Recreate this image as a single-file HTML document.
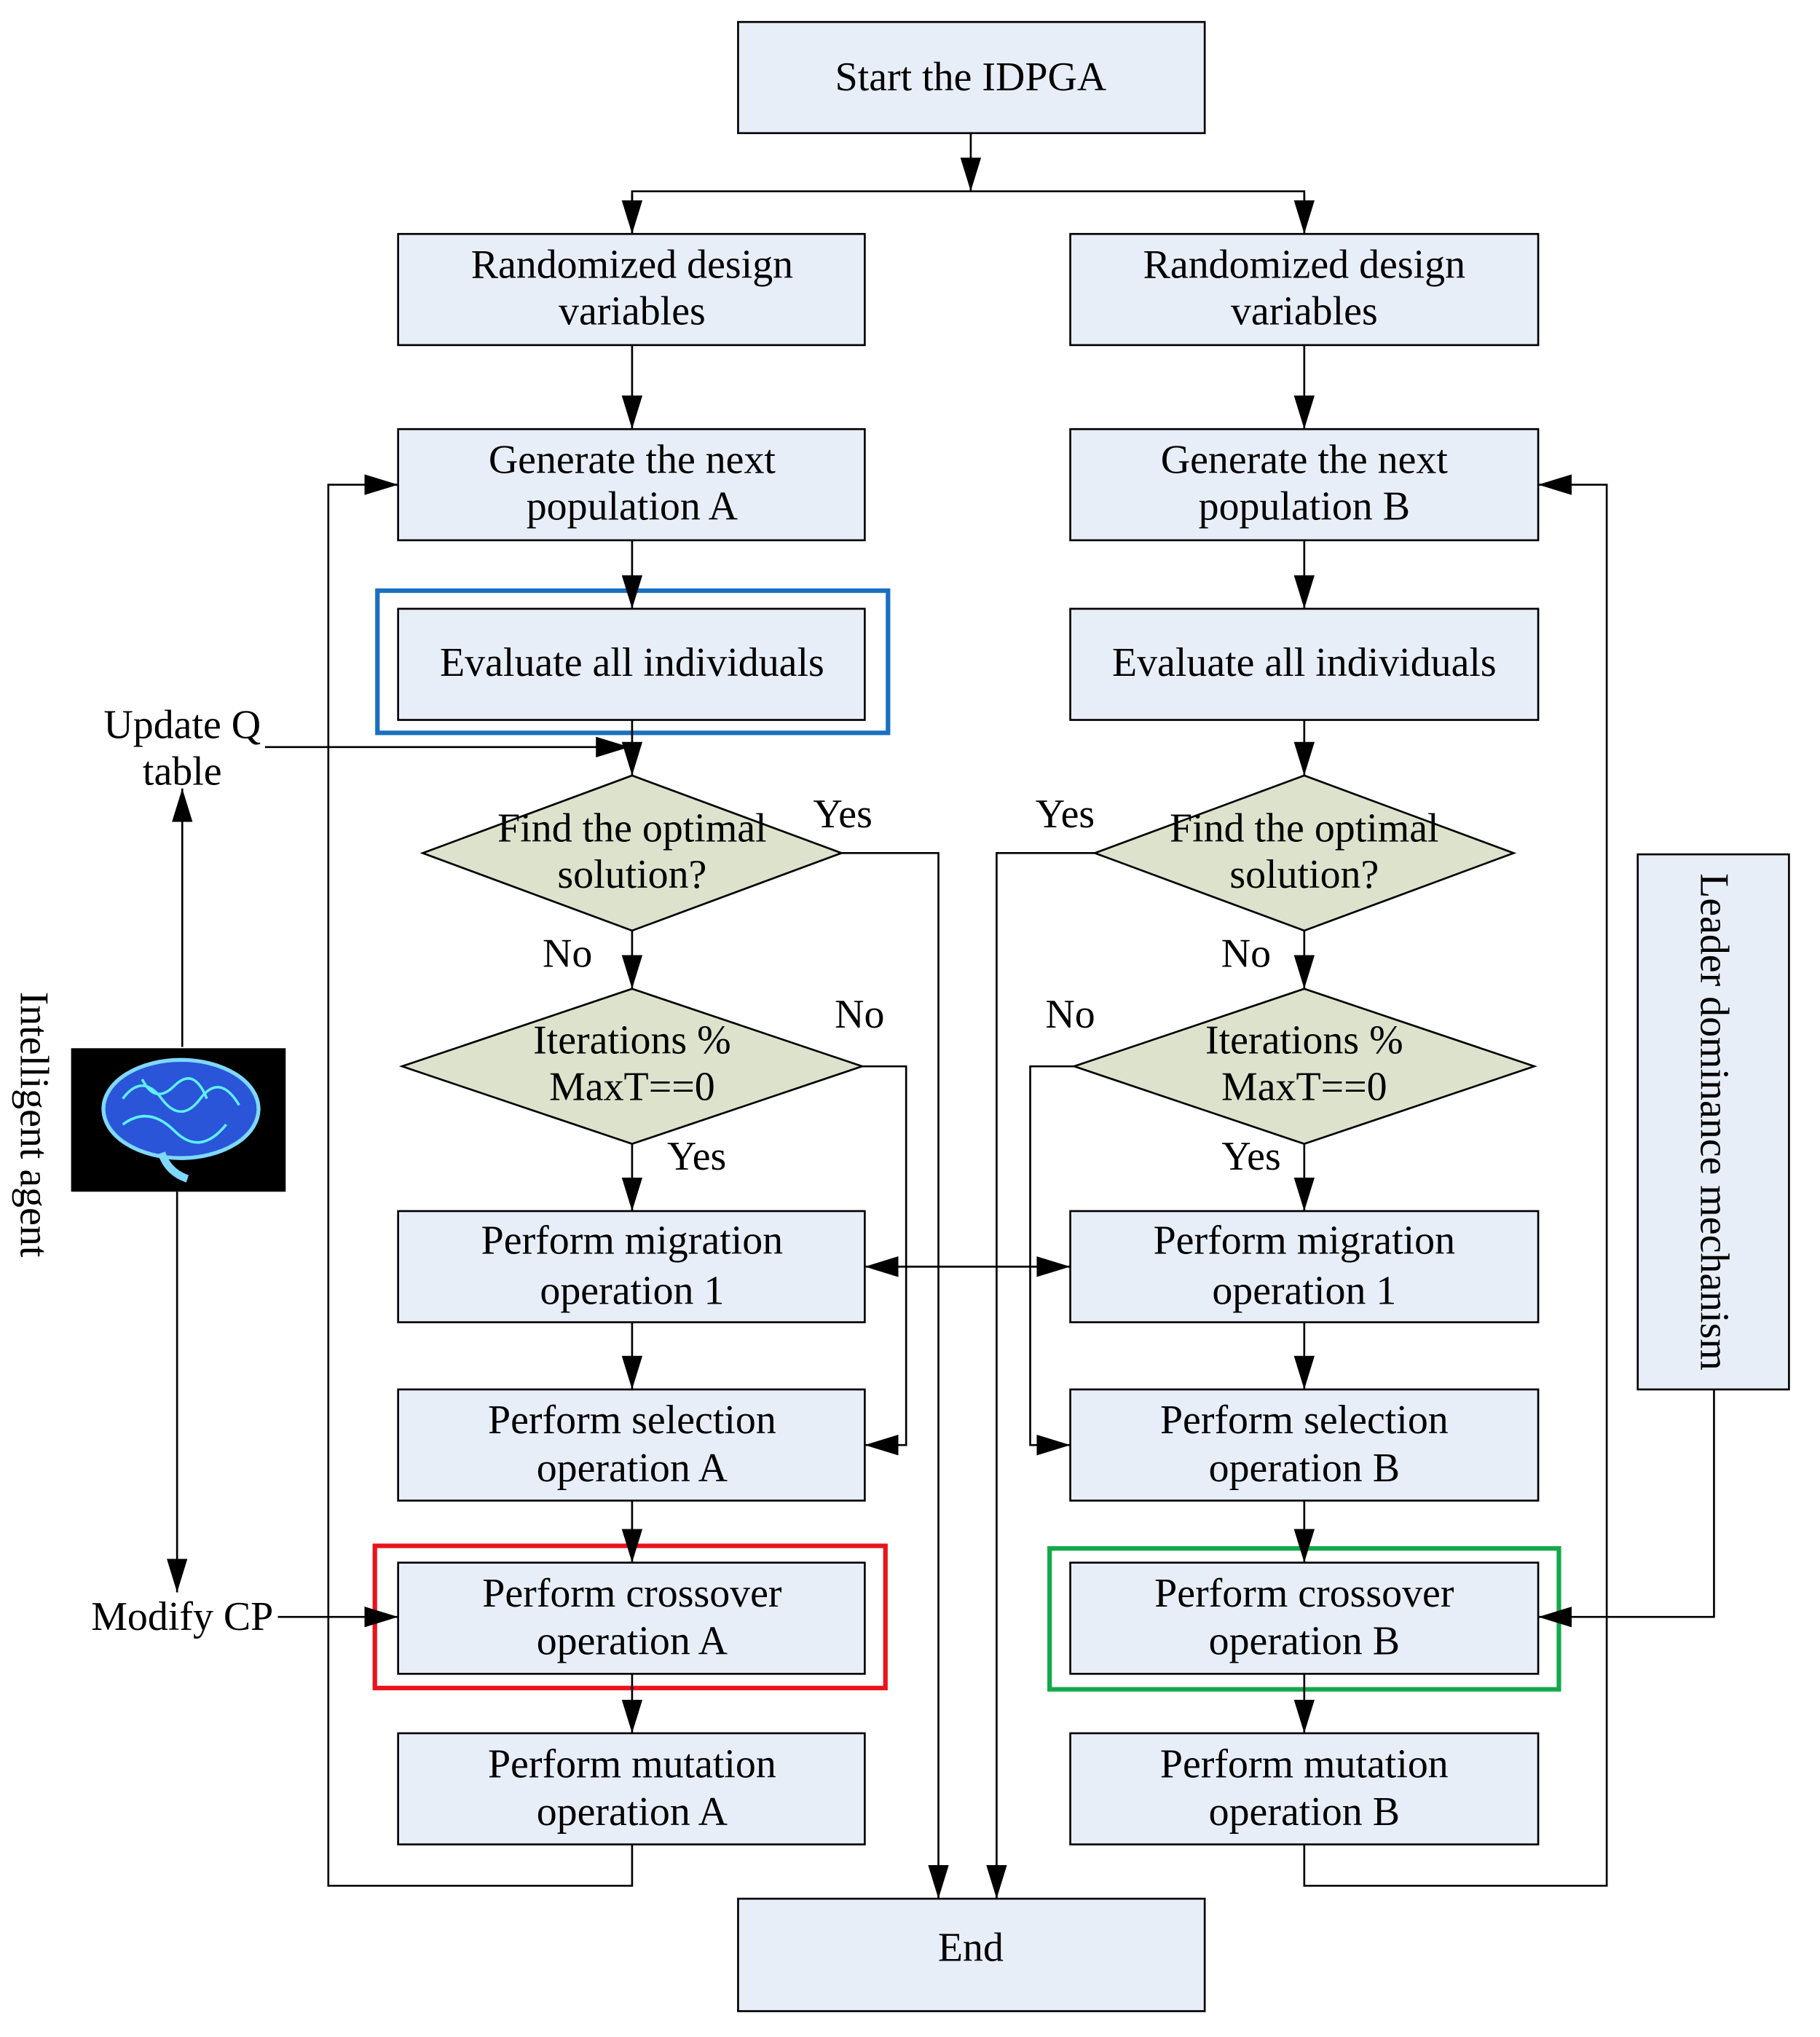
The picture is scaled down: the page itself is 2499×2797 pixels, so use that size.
<!DOCTYPE html>
<html><head><meta charset="utf-8"><style>
html,body{margin:0;padding:0;background:#fff;}
svg{display:block;}
text{font-family:"Liberation Serif",serif;font-size:31.5px;fill:#000;}
</style></head><body>
<svg width="2499" height="2797" viewBox="0 0 1408 1576" preserveAspectRatio="none" xmlns="http://www.w3.org/2000/svg">
<defs>
<marker id="b" markerWidth="26" markerHeight="16" refX="26" refY="8" orient="auto" markerUnits="userSpaceOnUse">
<path d="M0,0 L26,8 L0,16 z" fill="#000"/></marker>
<marker id="bs" markerWidth="26" markerHeight="16" refX="0" refY="8" orient="auto" markerUnits="userSpaceOnUse">
<path d="M26,0 L0,8 L26,16 z" fill="#000"/></marker>
</defs>
<g stroke="#000" stroke-width="1.5" fill="#e8eef8">
<rect x="571" y="17" width="361" height="86"/>
<rect x="308" y="181" width="361" height="86"/>
<rect x="828" y="181" width="362" height="86"/>
<rect x="308" y="332" width="361" height="86"/>
<rect x="828" y="332" width="362" height="86"/>
<rect x="308" y="471" width="361" height="86"/>
<rect x="828" y="471" width="362" height="86"/>
<rect x="308" y="937" width="361" height="86"/>
<rect x="828" y="937" width="362" height="86"/>
<rect x="308" y="1075" width="361" height="86"/>
<rect x="828" y="1075" width="362" height="86"/>
<rect x="308" y="1209" width="361" height="86"/>
<rect x="828" y="1209" width="362" height="86"/>
<rect x="308" y="1341" width="361" height="86"/>
<rect x="828" y="1341" width="362" height="86"/>
<rect x="571" y="1469" width="361" height="87"/>
<rect x="1267" y="661" width="117" height="414"/>
<polygon points="327,660 489,600 651,660 489,720" fill="#dde2cc"/>
<polygon points="847,660 1009,600 1171,660 1009,720" fill="#dde2cc"/>
<polygon points="311,825 489,765 667,825 489,885" fill="#dde2cc"/>
<polygon points="831,825 1009,765 1187,825 1009,885" fill="#dde2cc"/>
</g>
<rect x="292" y="457" width="395" height="110" fill="none" stroke="#1a6fc0" stroke-width="3.5"/>
<rect x="290" y="1196" width="395" height="110" fill="none" stroke="#e8141c" stroke-width="3.5"/>
<rect x="812" y="1198" width="394" height="109" fill="none" stroke="#13a84a" stroke-width="3.5"/>
<g stroke="#000" stroke-width="1.5" fill="none">
<line x1="751" y1="103" x2="751" y2="148" marker-end="url(#b)"/>
<polyline points="489,181 489,148 1009,148 1009,181"/>
<line x1="489" y1="150" x2="489" y2="181" marker-end="url(#b)"/>
<line x1="1009" y1="150" x2="1009" y2="181" marker-end="url(#b)"/>
<line x1="489" y1="267" x2="489" y2="332" marker-end="url(#b)"/>
<line x1="1009" y1="267" x2="1009" y2="332" marker-end="url(#b)"/>
<line x1="489" y1="418" x2="489" y2="471" marker-end="url(#b)"/>
<line x1="1009" y1="418" x2="1009" y2="471" marker-end="url(#b)"/>
<line x1="489" y1="557" x2="489" y2="600" marker-end="url(#b)"/>
<line x1="1009" y1="557" x2="1009" y2="600" marker-end="url(#b)"/>
<line x1="489" y1="720" x2="489" y2="765" marker-end="url(#b)"/>
<line x1="1009" y1="720" x2="1009" y2="765" marker-end="url(#b)"/>
<line x1="489" y1="885" x2="489" y2="937" marker-end="url(#b)"/>
<line x1="1009" y1="885" x2="1009" y2="937" marker-end="url(#b)"/>
<line x1="489" y1="1023" x2="489" y2="1075" marker-end="url(#b)"/>
<line x1="1009" y1="1023" x2="1009" y2="1075" marker-end="url(#b)"/>
<line x1="489" y1="1161" x2="489" y2="1209" marker-end="url(#b)"/>
<line x1="1009" y1="1161" x2="1009" y2="1209" marker-end="url(#b)"/>
<line x1="489" y1="1295" x2="489" y2="1341" marker-end="url(#b)"/>
<line x1="1009" y1="1295" x2="1009" y2="1341" marker-end="url(#b)"/>
<polyline points="489,1427 489,1459 254,1459 254,375 308,375" marker-end="url(#b)"/>
<polyline points="1009,1427 1009,1459 1243,1459 1243,375 1190,375" marker-end="url(#b)"/>
<polyline points="651,660 726,660 726,1469" marker-end="url(#b)"/>
<polyline points="847,660 771,660 771,1469" marker-end="url(#b)"/>
<polyline points="667,825 701,825 701,1118 669,1118" marker-end="url(#b)"/>
<polyline points="831,825 797,825 797,1118 828,1118" marker-end="url(#b)"/>
<line x1="669" y1="980" x2="828" y2="980" marker-start="url(#bs)" marker-end="url(#b)"/>
<polyline points="205,578 487,578" marker-end="url(#b)"/>
<line x1="141" y1="810" x2="141" y2="610" marker-end="url(#b)"/>
<line x1="137" y1="922" x2="137" y2="1232" marker-end="url(#b)"/>
<line x1="215" y1="1251" x2="308" y2="1251" marker-end="url(#b)"/>
<polyline points="1326,1075 1326,1251 1190,1251" marker-end="url(#b)"/>
</g>
<rect x="55" y="811" width="166" height="111" fill="#000"/>
<ellipse cx="140" cy="858" rx="60" ry="38" fill="#2a55d8" stroke="#7fd8ff" stroke-width="3"/>
<path d="M95,850 q15,-20 30,0 t30,0 t30,5 M95,870 q20,-15 40,5 t40,-5 M110,835 q10,20 25,5 t25,10" stroke="#5ef0ff" stroke-width="2" fill="none"/>
<path d="M125,892 q5,15 20,20" stroke="#7fd8ff" stroke-width="6" fill="none"/>
<g text-anchor="middle">
<text x="751" y="70">Start the IDPGA</text>
<text x="489" y="215">Randomized design</text><text x="489" y="251">variables</text>
<text x="1009" y="215">Randomized design</text><text x="1009" y="251">variables</text>
<text x="489" y="366">Generate the next</text><text x="489" y="402">population A</text>
<text x="1009" y="366">Generate the next</text><text x="1009" y="402">population B</text>
<text x="489" y="523">Evaluate all individuals</text>
<text x="1009" y="523">Evaluate all individuals</text>
<text x="489" y="651">Find the optimal</text><text x="489" y="687">solution?</text>
<text x="1009" y="651">Find the optimal</text><text x="1009" y="687">solution?</text>
<text x="489" y="815">Iterations %</text><text x="489" y="851">MaxT==0</text>
<text x="1009" y="815">Iterations %</text><text x="1009" y="851">MaxT==0</text>
<text x="489" y="970">Perform migration</text><text x="489" y="1009">operation 1</text>
<text x="1009" y="970">Perform migration</text><text x="1009" y="1009">operation 1</text>
<text x="489" y="1109">Perform selection</text><text x="489" y="1146">operation A</text>
<text x="1009" y="1109">Perform selection</text><text x="1009" y="1146">operation B</text>
<text x="489" y="1243">Perform crossover</text><text x="489" y="1280">operation A</text>
<text x="1009" y="1243">Perform crossover</text><text x="1009" y="1280">operation B</text>
<text x="489" y="1375">Perform mutation</text><text x="489" y="1412">operation A</text>
<text x="1009" y="1375">Perform mutation</text><text x="1009" y="1412">operation B</text>
<text x="751" y="1517">End</text>
<text x="141" y="571">Update Q</text><text x="141" y="607">table</text>
<text x="141" y="1261">Modify CP</text>
<text x="652" y="640">Yes</text><text x="824" y="640">Yes</text>
<text x="439" y="748">No</text><text x="964" y="748">No</text>
<text x="665" y="795">No</text><text x="828" y="795">No</text>
<text x="539" y="905">Yes</text><text x="968" y="905">Yes</text>
<text transform="translate(16,870) rotate(90)">Intelligent agent</text>
<text transform="translate(1316,868) rotate(90)">Leader dominance mechanism</text>
</g>
</svg>
</body></html>
